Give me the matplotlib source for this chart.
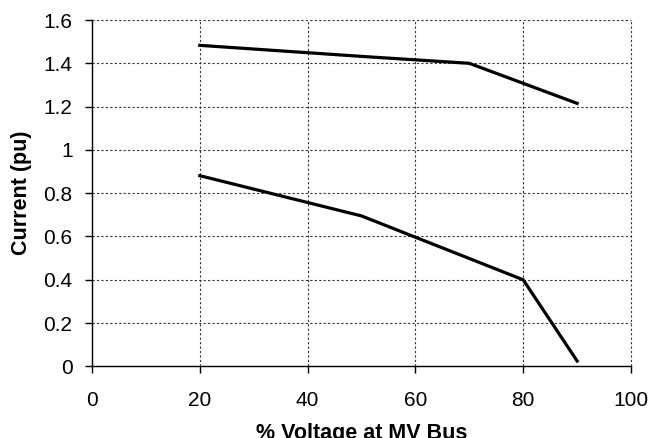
import matplotlib.pyplot as plt
from matplotlib.ticker import FuncFormatter

plt.rcParams['font.family'] = ['Liberation Sans', 'DejaVu Sans']

# upper curve
x_hi = [20, 50, 70, 90]
i_hi = [1.483, 1.432, 1.40, 1.215]
# lower curve
x_lo = [20, 50, 80, 90]
i_lo = [0.881, 0.695, 0.40, 0.025]

xticks = [0, 20, 40, 60, 80, 100]
yticks = [0, 0.2, 0.4, 0.6, 0.8, 1.0, 1.2, 1.4, 1.6]

fig = plt.figure(figsize=(6.51, 4.38), dpi=100)
ax = fig.add_axes([0.1413, 0.1635, 0.828, 0.7908])

ax.plot(x_hi, i_hi, color='black', lw=2.3, zorder=3)
ax.plot(x_lo, i_lo, color='black', lw=2.3, zorder=3)

ax.set_xlim(0, 100)
ax.set_ylim(0, 1.6)
ax.set_xticks(xticks)
ax.set_yticks(yticks)
ax.yaxis.set_major_formatter(FuncFormatter(lambda v, p: '%g' % round(v, 1)))

ax.grid(True, color='#333333', linestyle=(0, (2, 2)), linewidth=0.8)
for gl in ax.get_xgridlines() + ax.get_ygridlines():
    gl.set_clip_on(False)
ax.spines['top'].set_visible(False)
ax.spines['right'].set_visible(False)
ax.spines['left'].set_linewidth(1.0)
ax.spines['bottom'].set_linewidth(1.0)
ax.tick_params(direction='out', length=5, width=1, labelsize=15)
ax.tick_params(axis='x', pad=13)
ax.tick_params(axis='y', pad=9)

ax.set_xlabel('% Voltage at MV Bus', fontsize=15.5, fontweight='bold', labelpad=9)
ax.set_ylabel('Current (pu)', fontsize=15.5, fontweight='bold', labelpad=8)

fig.savefig('out.png', dpi=100)
